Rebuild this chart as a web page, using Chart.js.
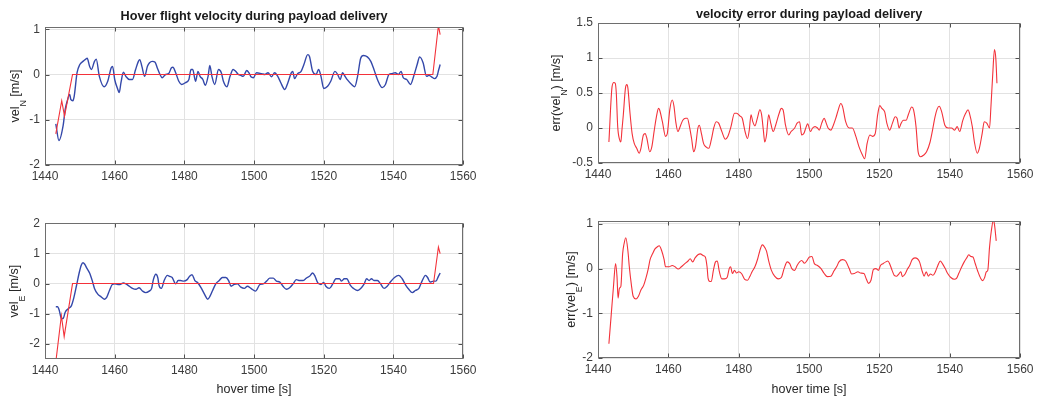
<!DOCTYPE html>
<html><head><meta charset="utf-8">
<script src="https://cdn.jsdelivr.net/npm/chart.js"></script>
<style>
html,body{margin:0;padding:0;background:#fff;}
body{width:1039px;height:398px;overflow:hidden;position:relative;}
canvas{position:absolute;}
</style></head><body>
<canvas id="c1"></canvas><canvas id="c2"></canvas><canvas id="c3"></canvas><canvas id="c4"></canvas>
<script>
// ---------------- data ----------------
const xTicks = [1440,1460,1480,1500,1520,1540,1560];
const yTicksVelN = [-2,-1,0,1];
const yTicksErrN = [-0.5,0,0.5,1,1.5];
const yTicksVelE = [-2,-1,0,1,2];
const yTicksErrE = [-2,-1,0,1];

// north velocity (measured, blue)
const velN_t = [1443.1,1444.0,1445.2,1445.8,1446.4,1447.1,1447.4,1448.0,1448.4,1449.2,1450.0,1450.9,1451.7,1452.1,1452.8,1453.3,1454.2,1454.7,1455.6,1457.0,1458.0,1459.0,1459.4,1460.0,1460.9,1461.3,1461.8,1462.5,1463.2,1464.2,1465.1,1466.0,1466.8,1467.2,1467.8,1468.6,1469.4,1470.0,1470.8,1471.6,1472.2,1473.0,1473.6,1474.6,1475.5,1476.3,1476.7,1477.5,1478.4,1479.2,1480.3,1481.3,1481.9,1482.4,1483.2,1483.9,1484.5,1485.3,1486.0,1486.8,1487.3,1487.9,1488.7,1489.8,1490.6,1491.2,1492.2,1493.1,1494.0,1494.7,1495.5,1496.2,1496.9,1497.9,1498.5,1499.1,1499.8,1500.7,1502.1,1503.1,1504.0,1505.0,1505.9,1506.8,1507.6,1508.8,1509.7,1510.7,1511.1,1511.6,1512.5,1513.5,1514.3,1515.4,1515.9,1516.8,1517.8,1518.5,1519.2,1520.0,1521.1,1522.0,1523.2,1524.0,1524.7,1525.4,1526.1,1526.8,1528.0,1528.9,1529.7,1530.6,1531.4,1532.5,1533.5,1534.4,1535.4,1536.8,1537.7,1538.7,1539.6,1540.5,1541.4,1542.2,1542.8,1543.8,1544.9,1545.8,1546.8,1547.5,1548.5,1549.5,1550.2,1550.9,1551.8,1552.5,1553.0,1553.4];
const velN = [-1.09,-1.46,-1.13,-0.77,-0.58,-0.44,-0.55,-0.58,-0.47,0.04,0.22,0.29,0.34,0.36,0.18,0.11,0.29,0.34,-0.04,-0.27,-0.15,0.15,0.18,-0.11,-0.33,-0.40,-0.18,0.05,-0.04,-0.11,-0.11,0.11,0.29,0.33,0.18,-0.04,0.18,0.26,0.29,0.27,0.15,0.0,-0.07,0.0,0.02,0.15,0.16,0.04,-0.15,-0.22,-0.18,-0.11,0.11,0.11,-0.15,0.07,-0.04,-0.11,-0.24,-0.04,0.20,-0.04,-0.22,0.11,0.04,-0.15,-0.27,-0.04,0.11,0.07,0.0,-0.02,-0.04,0.09,0.04,-0.05,-0.07,0.04,0.02,0.0,0.04,-0.05,0.04,-0.04,-0.17,-0.33,-0.18,0.04,0.07,-0.09,0.02,0.07,0.22,0.44,0.40,0.07,0.0,0.11,-0.04,-0.31,-0.26,-0.15,0.07,0.0,-0.11,0.04,-0.04,-0.12,-0.22,-0.27,-0.04,0.36,0.42,0.39,0.29,0.11,-0.11,-0.29,-0.22,0.0,0.02,0.04,0.0,0.07,-0.07,-0.11,-0.22,-0.04,0.22,0.39,0.26,-0.04,-0.02,-0.05,-0.09,-0.04,0.11,0.22];
// north velocity reference (red)
const refN_t = [1443.1,1444.8,1445.6,1447.9,1551.3,1552.9,1553.4];
const refN = [-1.31,-0.58,-0.92,0,0,1.08,0.88];

// east velocity (measured, blue)
const velE_t = [1443.1,1443.6,1444.1,1444.7,1445.2,1445.8,1446.6,1447.6,1448.3,1449.0,1449.8,1450.4,1450.9,1451.4,1452.0,1452.8,1453.6,1454.2,1455.2,1456.1,1457.1,1457.7,1458.5,1459.3,1460.0,1460.9,1461.5,1462.5,1463.2,1464.2,1465.1,1466.1,1467.0,1468.0,1468.9,1469.9,1470.6,1471.1,1471.8,1472.4,1472.7,1473.4,1474.2,1475.1,1475.8,1476.5,1477.5,1478.2,1478.9,1479.8,1480.8,1481.5,1482.2,1483.0,1483.9,1484.9,1485.8,1486.7,1487.4,1488.1,1489.0,1490.0,1490.9,1491.9,1492.7,1493.4,1494.3,1495.2,1496.2,1497.2,1498.1,1499.1,1500.4,1501.7,1502.6,1503.6,1504.5,1505.5,1506.4,1507.4,1508.3,1509.3,1510.2,1511.2,1512.1,1513.1,1514.0,1515.0,1515.9,1516.8,1517.5,1518.3,1519.2,1520.0,1520.6,1521.6,1522.5,1523.5,1524.5,1525.1,1525.9,1526.6,1527.6,1528.5,1529.6,1530.6,1531.6,1532.3,1533.0,1533.7,1534.4,1535.4,1536.3,1537.3,1538.2,1539.1,1540.3,1541.5,1542.5,1543.5,1544.4,1545.4,1546.3,1547.3,1548.2,1549.2,1549.8,1550.5,1551.5,1552.2,1552.9,1553.4];
const velE = [-0.77,-0.77,-0.89,-1.16,-1.16,-0.95,-0.84,-0.73,-0.46,-0.09,0.35,0.61,0.69,0.64,0.51,0.35,0.08,-0.16,-0.36,-0.44,-0.52,-0.46,-0.23,-0.03,-0.01,-0.03,-0.03,0.02,-0.01,-0.09,-0.16,-0.19,-0.14,-0.25,-0.30,-0.25,-0.16,0.13,0.31,0.18,-0.05,-0.16,0.10,0.27,0.24,0.20,-0.01,0.10,0.10,0.08,0.13,0.24,0.29,0.10,0.02,-0.16,-0.36,-0.52,-0.41,-0.23,-0.01,0.10,0.20,0.20,0.10,-0.09,-0.03,-0.01,-0.12,-0.16,-0.09,-0.16,-0.25,-0.03,-0.01,0.08,0.18,0.18,0.08,0.05,-0.09,-0.19,-0.14,-0.01,0.13,0.10,0.10,0.18,0.24,0.35,0.24,0.02,-0.03,0.04,-0.09,-0.16,-0.03,0.16,0.16,0.08,0.16,0.16,-0.05,-0.16,-0.23,-0.16,-0.01,0.16,0.10,0.16,0.10,0.10,-0.01,-0.16,-0.09,0.05,0.20,0.27,0.16,-0.05,-0.19,-0.30,-0.23,-0.16,0.08,0.27,0.20,0.05,0.08,0.08,0.24,0.35];
// east velocity reference (red)
const refE_t = [1443.0,1444.7,1445.5,1447.9,1551.5,1552.9,1553.4];
const refE = [-2.7,-1.06,-1.76,0,0,1.21,0.99];

// north velocity error (red)
const errN_t = [1443.1,1444.0,1444.5,1444.9,1445.2,1445.6,1446.1,1446.5,1446.8,1447.2,1447.8,1448.2,1448.5,1449.1,1449.7,1450.3,1451.0,1451.7,1452.2,1452.9,1453.4,1453.9,1454.7,1455.3,1456.0,1456.6,1457.2,1457.5,1458.3,1459.2,1459.7,1460.4,1461.1,1461.6,1462.1,1462.7,1463.5,1464.1,1464.9,1465.4,1466.0,1466.6,1467.2,1467.7,1468.4,1468.8,1469.4,1470.0,1470.7,1471.5,1472.2,1472.9,1473.6,1474.3,1475.2,1476.2,1476.9,1477.8,1478.8,1479.4,1480.4,1481.0,1481.8,1482.5,1483.0,1483.5,1484.0,1484.6,1485.4,1486.0,1486.5,1487.0,1487.4,1487.9,1488.5,1489.1,1489.8,1490.5,1491.5,1492.1,1492.6,1493.3,1494.2,1494.9,1495.9,1496.6,1497.3,1497.9,1498.5,1499.2,1499.6,1500.4,1501.0,1501.7,1502.4,1502.9,1503.6,1504.3,1504.8,1505.4,1506.2,1506.9,1507.6,1508.3,1509.0,1509.5,1510.4,1511.4,1512.3,1513.3,1514.2,1515.2,1515.8,1516.5,1517.3,1518.0,1518.8,1519.5,1520.1,1520.7,1521.5,1522.1,1522.9,1523.7,1524.5,1525.0,1525.6,1526.1,1526.8,1527.6,1528.2,1529.2,1529.7,1530.4,1531.0,1531.7,1532.5,1533.4,1534.4,1535.1,1535.8,1536.4,1537.0,1537.7,1538.6,1539.5,1540.5,1541.4,1542.1,1542.8,1543.7,1544.5,1545.2,1545.6,1546.4,1547.0,1547.8,1548.4,1549.2,1549.8,1550.5,1551.3,1551.7,1552.2,1552.7,1553.1,1553.4];
const errN = [-0.20,0.59,0.65,0.64,0.50,0.02,-0.16,-0.20,-0.03,0.19,0.57,0.62,0.57,0.21,-0.08,-0.22,-0.29,-0.36,-0.29,-0.10,-0.08,-0.15,-0.34,-0.27,-0.03,0.16,0.28,0.26,0.09,-0.12,-0.08,0.26,0.40,0.31,0.09,-0.05,0.04,0.11,0.14,0.14,0.02,-0.15,-0.34,-0.27,0.0,0.04,-0.08,-0.22,-0.27,-0.29,-0.17,0.0,0.09,0.07,-0.05,-0.16,-0.12,0.02,0.21,0.21,0.17,0.14,-0.05,-0.15,-0.03,0.19,0.09,0.03,0.16,0.26,0.19,-0.03,-0.20,-0.10,0.19,0.07,-0.05,0.04,0.21,0.28,0.26,0.04,-0.10,-0.05,0.0,0.07,0.09,-0.10,-0.08,0.02,0.06,-0.05,0.0,0.02,0.0,-0.03,0.07,0.14,0.08,0.0,-0.03,0.04,0.14,0.26,0.35,0.31,0.09,0.0,0.0,-0.12,-0.27,-0.39,-0.44,-0.22,-0.10,-0.12,-0.08,0.19,0.32,0.28,0.23,0.07,-0.03,0.07,0.16,0.14,0.0,0.06,0.11,0.11,0.19,0.30,0.26,0.02,-0.34,-0.41,-0.39,-0.34,-0.20,-0.03,0.16,0.27,0.31,0.23,0.04,0.0,0.0,-0.03,0.02,-0.05,0.11,0.21,0.26,0.21,0.02,-0.20,-0.36,-0.29,-0.08,0.09,0.07,0.0,0.31,0.76,1.12,0.98,0.64];

// east velocity error (red)
const errE_t = [1443.1,1443.8,1444.4,1445.0,1445.4,1445.7,1446.1,1446.5,1447.0,1447.4,1447.9,1448.5,1448.9,1449.5,1450.0,1450.8,1451.5,1452.2,1453.0,1453.6,1454.3,1454.8,1455.5,1456.2,1456.9,1457.4,1458.1,1458.8,1459.2,1460.2,1461.1,1461.9,1462.8,1463.7,1464.7,1465.6,1466.2,1466.9,1467.6,1468.4,1469.1,1469.9,1470.5,1471.0,1471.3,1471.8,1472.2,1472.8,1473.4,1473.9,1474.5,1475.2,1476.0,1476.7,1477.3,1477.7,1478.2,1478.8,1479.4,1480.0,1480.8,1481.7,1482.5,1483.2,1483.8,1484.6,1485.4,1486.0,1486.7,1487.1,1487.9,1488.5,1489.3,1490.2,1491.2,1492.1,1492.9,1493.8,1494.5,1495.1,1495.9,1496.6,1497.3,1497.9,1498.7,1499.4,1500.1,1500.8,1501.5,1502.4,1503.4,1504.3,1505.2,1506.2,1507.1,1507.9,1508.5,1509.5,1510.4,1511.4,1512.1,1512.9,1513.9,1514.6,1515.6,1516.3,1516.9,1517.6,1518.3,1519.0,1519.7,1520.3,1521.0,1521.8,1522.4,1522.9,1523.6,1524.2,1524.9,1525.6,1526.1,1526.5,1527.3,1527.9,1528.6,1529.3,1530.1,1530.8,1531.4,1532.2,1532.7,1533.3,1533.9,1534.5,1535.2,1535.9,1536.6,1537.3,1537.9,1538.7,1539.4,1540.3,1541.3,1541.9,1542.6,1543.4,1544.1,1544.8,1545.4,1546.0,1546.6,1547.2,1548.0,1548.8,1549.4,1549.9,1550.4,1550.8,1551.3,1551.8,1552.4,1552.7,1553.2];
const errE = [-1.68,-0.99,-0.40,0.11,-0.18,-0.66,-0.44,-0.40,0.33,0.55,0.69,0.40,0.04,-0.37,-0.62,-0.68,-0.62,-0.48,-0.37,-0.22,0.0,0.20,0.33,0.44,0.49,0.51,0.40,0.20,0.04,0.04,0.07,0.04,-0.01,0.04,0.11,0.17,0.22,0.15,0.24,0.31,0.33,0.29,0.26,0.04,-0.22,-0.29,-0.29,-0.04,0.15,0.17,-0.07,-0.23,-0.23,-0.20,0.0,0.04,-0.11,-0.04,-0.10,-0.07,-0.11,-0.24,-0.26,-0.17,-0.07,0.04,0.22,0.40,0.53,0.51,0.39,0.18,-0.04,-0.17,-0.23,-0.20,0.0,0.15,0.11,0.0,-0.04,0.07,0.15,0.18,0.12,0.18,0.26,0.27,0.11,0.07,0.0,-0.11,-0.18,-0.17,-0.05,0.05,0.15,0.20,0.17,0.0,-0.12,-0.11,-0.07,-0.10,-0.11,-0.24,-0.33,-0.26,-0.02,0.0,-0.04,0.07,0.11,0.15,0.17,0.11,-0.04,-0.15,-0.17,-0.11,-0.07,-0.18,-0.12,-0.02,0.07,0.20,0.24,0.22,0.15,-0.07,-0.17,-0.07,-0.17,-0.12,-0.15,-0.07,0.07,0.17,0.11,0.0,-0.11,-0.20,-0.24,-0.22,-0.10,0.04,0.15,0.24,0.31,0.27,0.26,0.12,-0.07,-0.22,-0.27,-0.20,-0.07,-0.04,0.48,0.84,1.08,0.99,0.62];

// ---------------- drawing ----------------
const FONT = '"Liberation Sans", Arial, Helvetica, sans-serif';
const BLUE = '#3448aa';
const RED = '#f3323a';

const pts = (ts, vs) => ts.map((t, i) => ({x: t, y: vs[i]}));

const framePlugin = {
  id: 'frame',
  afterDraw(chart) {
    const o = chart.options.plugins.frame;
    const {ctx, chartArea: a, scales: {x, y}} = chart;
    const L = Math.round(a.left) + 0.5, R = Math.round(a.right) - 0.5;
    const T = Math.round(a.top) + 0.5, B = Math.round(a.bottom) - 0.5;
    ctx.save();
    ctx.lineWidth = 1;
    ctx.strokeStyle = '#505050';
    const tl = 4;
    ctx.beginPath();
    x.ticks.forEach(t => {
      const p = Math.round(x.getPixelForValue(t.value)) + 0.5;
      ctx.moveTo(p, B); ctx.lineTo(p, B - tl);
      ctx.moveTo(p, T); ctx.lineTo(p, T + tl);
    });
    y.ticks.forEach(t => {
      const p = Math.round(y.getPixelForValue(t.value)) + 0.5;
      ctx.moveTo(L, p); ctx.lineTo(L + tl, p);
      ctx.moveTo(R, p); ctx.lineTo(R - tl, p);
    });
    ctx.stroke();
    ctx.strokeStyle = '#6e6e6e';
    ctx.strokeRect(L, T, R - L, B - T);
    // title centred over the plot area
    if (o.title) {
      ctx.fillStyle = '#1a1a1a';
      ctx.font = 'bold 12.7px ' + FONT;
      ctx.textAlign = 'center';
      ctx.textBaseline = 'middle';
      ctx.fillText(o.title, (a.left + a.right) / 2, a.top - o.titleOff);
    }
    // y label with subscript
    ctx.fillStyle = '#262626';
    ctx.textAlign = 'left';
    ctx.textBaseline = 'alphabetic';
    const fMain = '12.6px ' + FONT, fSub = '8.8px ' + FONT;
    let w = 0;
    o.ylab.forEach(p => { ctx.font = p.sub ? fSub : fMain; p.w = ctx.measureText(p.t).width; w += p.w; });
    ctx.save();
    ctx.translate(a.left - o.ylabOff, (a.top + a.bottom) / 2);
    ctx.rotate(-Math.PI / 2);
    let xx = -w / 2;
    o.ylab.forEach(p => { ctx.font = p.sub ? fSub : fMain; ctx.fillText(p.t, xx, p.sub ? 6.5 : 0); xx += p.w; });
    ctx.restore();
    if (o.xlab) {
      ctx.font = '12.5px ' + FONT;
      ctx.textAlign = 'center';
      ctx.textBaseline = 'middle';
      ctx.fillText(o.xlab, (a.left + a.right) / 2, a.bottom + o.xlabOff);
    }
    ctx.restore();
  }
};

function panel(id, g, yMin, yMax, yTicks, datasets, title, titleOff, ylab, ylabOff, xlab, xlabOff) {
  const cv = document.getElementById(id);
  const W = (g.r - g.l) + g.lw + g.rw;
  const H = (g.b - g.t) + g.th + g.bh;
  cv.width = W; cv.height = H;
  cv.style.width = W + 'px'; cv.style.height = H + 'px';
  cv.style.left = (g.l - g.lw) + 'px'; cv.style.top = (g.t - g.th) + 'px';
  new Chart(cv, {
    type: 'line',
    data: {datasets},
    options: {
      responsive: false, animation: false, devicePixelRatio: 1,
      layout: {padding: {left: 0, right: g.rw, top: g.th, bottom: 0}},
      plugins: {legend: {display: false}, tooltip: {enabled: false}, title: {display: false},
        frame: {title, titleOff, ylab, ylabOff, xlab, xlabOff}},
      elements: {point: {radius: 0}},
      scales: {
        x: {
          type: 'linear', min: 1440, max: 1560,
          afterBuildTicks: s => { s.ticks = xTicks.map(v => ({value: v})); },
          afterFit: s => { s.height = g.bh; },
          grid: {color: '#e2e2e2', drawTicks: false},
          border: {display: false},
          ticks: {padding: 4.5, color: '#3c3c3c', font: {family: FONT, size: 12}, maxRotation: 0, autoSkip: false,
            callback: v => String(v)}
        },
        y: {
          type: 'linear', min: yMin, max: yMax,
          afterBuildTicks: s => { s.ticks = yTicks.map(v => ({value: v})); },
          afterFit: s => { s.width = g.lw; },
          grid: {color: '#e2e2e2', drawTicks: false},
          border: {display: false},
          ticks: {padding: 5, color: '#3c3c3c', font: {family: FONT, size: 12}, autoSkip: false,
            callback: v => String(v)}
        }
      }
    },
    plugins: [framePlugin]
  });
}

const lineDs = (data, color, w, smooth) => ({
  data, borderColor: color, borderWidth: w, pointRadius: 0, fill: false,
  tension: 0, cubicInterpolationMode: smooth ? 'monotone' : 'default'
});

// top-left: north velocity
panel('c1', {l: 45, r: 467, t: 27, b: 165, lw: 45, rw: 14, th: 27, bh: 22},
  -2, 1.05, yTicksVelN,
  [lineDs(pts(refN_t, refN), RED, 1.1, false), lineDs(pts(velN_t, velN), BLUE, 1.4, true)],
  'Hover flight velocity during payload delivery', 10.3,
  [{t: 'vel'}, {t: 'N', sub: true}, {t: ' [m/s]'}], 26, null, 0);

// top-right: north velocity error
panel('c2', {l: 598, r: 1024, t: 23, b: 163, lw: 60, rw: 14, th: 23, bh: 22},
  -0.5, 1.5, yTicksErrN,
  [lineDs(pts(errN_t, errN), RED, 1.1, true)],
  'velocity error during payload delivery', 8.7,
  [{t: 'err(vel'}, {t: 'N', sub: true}, {t: ') [m/s]'}], 38, null, 0);

// bottom-left: east velocity
panel('c3', {l: 45, r: 467, t: 221, b: 359, lw: 45, rw: 14, th: 10, bh: 39},
  -2.5, 2, yTicksVelE,
  [lineDs(pts(refE_t, refE), RED, 1.1, false), lineDs(pts(velE_t, velE), BLUE, 1.4, true)],
  null, 0,
  [{t: 'vel'}, {t: 'E', sub: true}, {t: ' [m/s]'}], 27, 'hover time [s]', 30.5);

// bottom-right: east velocity error
panel('c4', {l: 598, r: 1024, t: 219, b: 358, lw: 60, rw: 14, th: 10, bh: 40},
  -2, 1.06, yTicksErrE,
  [lineDs(pts(errE_t, errE), RED, 1.1, true)],
  null, 0,
  [{t: 'err(vel'}, {t: 'E', sub: true}, {t: ') [m/s]'}], 23, 'hover time [s]', 32);
</script>
</body></html>
